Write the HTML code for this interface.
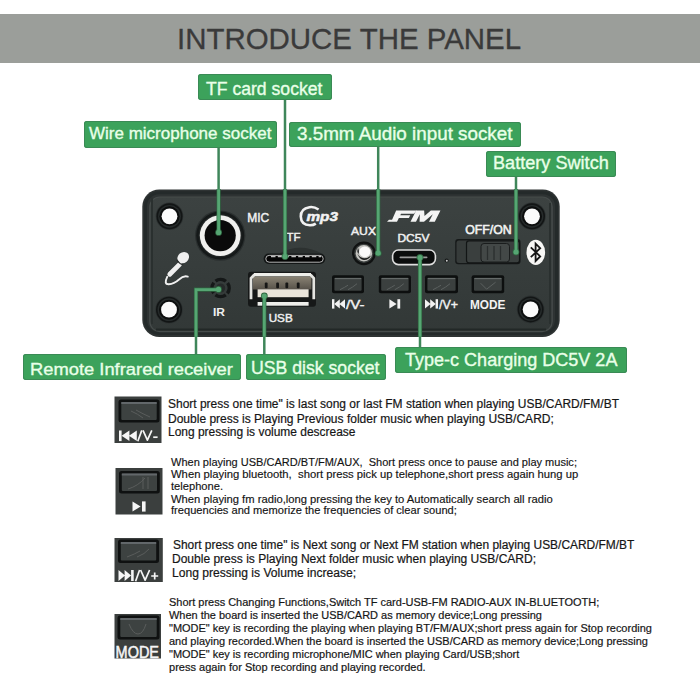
<!DOCTYPE html>
<html><head><meta charset="utf-8">
<style>
*{margin:0;padding:0;box-sizing:border-box}
html,body{width:700px;height:700px;overflow:hidden;background:#fff}
body{position:relative;font-family:"Liberation Sans",sans-serif}
.a{position:absolute}
.t{position:absolute;white-space:nowrap;line-height:1;transform-origin:0 0}
.lbl{position:absolute;background:#3ca25b;border-radius:3px;box-shadow:inset 0 0 0 1px #3a8a55}
</style></head><body>
<div class="a" style="left:0;top:13.6px;width:700px;height:49.8px;background:#9b9e9a"></div>
<div class="t" style="left:177.45px;top:24.72px;font-size:28.8px;transform:scaleX(1.0223);color:#3a3a3a;-webkit-text-stroke:0.3px #3a3a3a">INTRODUCE THE PANEL</div>
<svg class="a" style="left:0;top:0" width="700" height="700" viewBox="0 0 700 700">
<defs>
<radialGradient id="hole" cx="50%" cy="50%" r="50%"><stop offset="0.6" stop-color="#111414"/><stop offset="0.82" stop-color="#1c2020"/><stop offset="1" stop-color="#343a39"/></radialGradient>
<linearGradient id="face" x1="0" y1="0" x2="0" y2="1"><stop offset="0" stop-color="#3c4241"/><stop offset="0.5" stop-color="#373d3c"/><stop offset="1" stop-color="#323837"/></linearGradient>
</defs>
<!-- panel body -->
<rect x="142.3" y="189.5" width="417.4" height="147.5" rx="17" fill="#2e3333"/>
<rect x="145.5" y="192.8" width="411" height="140.6" rx="13.5" fill="none" stroke="#242a2a" stroke-width="3"/>
<rect x="149.8" y="197" width="402.4" height="134.6" rx="10" fill="url(#face)" stroke="#464c4b" stroke-width="1.2"/>
<line x1="156" y1="329.4" x2="546" y2="329.4" stroke="#222827" stroke-width="2"/>
<line x1="152" y1="197.5" x2="152" y2="324" stroke="#2a302f" stroke-width="2"/>
<line x1="550" y1="203" x2="550" y2="324" stroke="#2a302f" stroke-width="2"/>

<!-- mounting holes -->
<g>
<circle cx="169.5" cy="216.3" r="13.8" fill="#2c3131"/><circle cx="169.5" cy="216.3" r="13" fill="#121515"/><circle cx="169.5" cy="216.3" r="11.4" fill="#262b2b"/><circle cx="169.5" cy="216.3" r="10" fill="#0c0e0e"/><circle cx="169.5" cy="216.3" r="7.9" fill="#fbfbfb"/>
<circle cx="532" cy="216.3" r="13.8" fill="#2c3131"/><circle cx="532" cy="216.3" r="13" fill="#121515"/><circle cx="532" cy="216.3" r="11.4" fill="#262b2b"/><circle cx="532" cy="216.3" r="10" fill="#0c0e0e"/><circle cx="532" cy="216.3" r="7.9" fill="#fbfbfb"/>
<circle cx="169" cy="309.7" r="13.8" fill="#2c3131"/><circle cx="169" cy="309.7" r="13" fill="#121515"/><circle cx="169" cy="309.7" r="11.4" fill="#262b2b"/><circle cx="169" cy="309.7" r="10" fill="#0c0e0e"/><circle cx="169" cy="309.7" r="7.9" fill="#fbfbfb"/>
<circle cx="530.6" cy="309.4" r="13.8" fill="#2c3131"/><circle cx="530.6" cy="309.4" r="13" fill="#121515"/><circle cx="530.6" cy="309.4" r="11.4" fill="#262b2b"/><circle cx="530.6" cy="309.4" r="10" fill="#0c0e0e"/><circle cx="530.6" cy="309.4" r="7.9" fill="#fbfbfb"/>
</g>

<!-- MIC jack -->
<circle cx="220.2" cy="235.6" r="25.2" fill="#2a2f2f"/>
<circle cx="220.2" cy="235.6" r="24" fill="#151919"/>
<circle cx="220.2" cy="235.6" r="21.6" fill="#232727"/>
<circle cx="220.2" cy="235.6" r="20.4" fill="#f0f0ee"/>
<circle cx="220.2" cy="235.6" r="15.6" fill="#0a0a0a"/>
<text x="247.2" y="221.5" font-family="Liberation Sans" font-size="13" fill="#f2f2f2" stroke="#f2f2f2" stroke-width="0.45" textLength="22" lengthAdjust="spacingAndGlyphs">MIC</text>

<!-- mic icon -->
<g stroke="#f0f0f0" fill="none" stroke-linecap="round">
<path d="M167.2 276.8 Q163.5 284.5 168.8 284.3 Q174 284 179 279.5 Q183.5 275.2 187.8 276.6" stroke-width="1.9"/>
<path d="M169.8 274.2 L179.6 264.4" stroke-width="4.8"/>
</g>
<ellipse cx="183.2" cy="257.6" rx="6.2" ry="5.3" transform="rotate(-40 183.2 257.6)" fill="#f0f0f0"/>
<path d="M176.8 259.8 Q179 263.8 183.4 265" stroke="#2a2e2e" stroke-width="1.2" fill="none"/>

<!-- IR sensor -->
<circle cx="220.6" cy="288" r="8.6" fill="none" stroke="#151818" stroke-width="3.4" stroke-dasharray="11 2.5" transform="rotate(53 220.6 288)"/>
<circle cx="220.6" cy="288" r="4.6" fill="#262a2a"/>
<text x="213" y="315.7" font-family="Liberation Sans" font-weight="bold" font-size="11.5" fill="#f0f0f0" textLength="12" lengthAdjust="spacingAndGlyphs">IR</text>

<!-- mp3 logo -->
<path d="M318.6 209.5 Q314 206.5 309.5 207.2 Q300.7 208.5 300.8 216.5 Q301 225 310 225.2 Q313.5 225.2 315.8 223.6" fill="none" stroke="#f2f2f2" stroke-width="2.6"/>
<text x="306.5" y="221" font-family="Liberation Sans" font-weight="bold" font-style="italic" font-size="12.6" fill="#f2f2f2" stroke="#f2f2f2" stroke-width="0.5" textLength="31.5" lengthAdjust="spacingAndGlyphs">mp3</text>

<!-- TF -->
<text x="286.5" y="241.3" font-family="Liberation Sans" font-size="11.6" fill="#f0f0f0" stroke="#f0f0f0" stroke-width="0.45" textLength="14" lengthAdjust="spacingAndGlyphs">TF</text>
<path d="M279 253.5 Q300 242 322 253.5" fill="#2c3130"/>
<rect x="263.6" y="253.6" width="61.7" height="10.3" rx="5.1" fill="#131616"/>
<rect x="265.8" y="255.4" width="57.4" height="6.8" rx="3.4" fill="#050505" stroke="#c6c6c6" stroke-width="0.9"/>
<path d="M271 256.5 H321" stroke="#c0c0c0" stroke-width="1.3" stroke-dasharray="4.5 2.3"/>

<!-- USB port -->
<defs><linearGradient id="usbin" x1="0" y1="0" x2="0" y2="1"><stop offset="0" stop-color="#8a8374"/><stop offset="1" stop-color="#57524a"/></linearGradient></defs>
<rect x="248" y="271.8" width="68" height="35" rx="3" fill="#161818"/>
<rect x="253" y="276.5" width="58.5" height="13" fill="url(#usbin)"/>
<g fill="#161616"><rect x="264.8" y="282.6" width="2.8" height="5.6" rx="1"/><rect x="276.2" y="282.6" width="2.8" height="5.6" rx="1"/><rect x="285.4" y="282.6" width="2.8" height="5.6" rx="1"/><rect x="296.8" y="282.6" width="2.8" height="5.6" rx="1"/></g>
<path d="M254.5 274.6 L251 278.2 V299.2" fill="none" stroke="#e4e4e0" stroke-width="2.8"/>
<path d="M310.5 274.6 L313.8 278.2 V299.2" fill="none" stroke="#e4e4e0" stroke-width="2.8"/>
<rect x="254" y="273" width="57" height="3.3" fill="#eeeeea"/>
<rect x="257.6" y="289.3" width="51" height="7.9" fill="#e9e4da"/>
<rect x="257.6" y="302" width="51" height="3.7" fill="#eeeeeb"/>
<text x="268.7" y="322.2" font-family="Liberation Sans" font-size="11.6" fill="#f0f0f0" stroke="#f0f0f0" stroke-width="0.45" textLength="24" lengthAdjust="spacingAndGlyphs">USB</text>

<!-- AUX -->
<text x="351" y="235" font-family="Liberation Sans" font-size="11.8" fill="#f0f0f0" stroke="#f0f0f0" stroke-width="0.45" textLength="25" lengthAdjust="spacingAndGlyphs">AUX</text>
<circle cx="363.9" cy="253.3" r="11.9" fill="#101212"/>
<circle cx="363.9" cy="253.3" r="9.6" fill="#3c403f"/>
<circle cx="363.9" cy="253.3" r="8.2" fill="#c4c4c0"/>
<path d="M357.5 253.5 Q359 259.5 364 260 Q369 259.8 371 255.5 Q368 258.3 364 258.2 Q359.5 257.8 357.5 253.5 Z" fill="#1a1c1c"/>
<path d="M358.2 248 Q359.5 251.5 358.6 254 L357.4 252 Q357.2 249.5 358.2 248 Z" fill="#1a1c1c"/>
<ellipse cx="364.8" cy="251.8" rx="5.6" ry="5.4" fill="#fafafa"/>

<!-- FM logo -->
<g transform="translate(0 221.7) skewX(-27) translate(0 -221.7)" fill="#f4f4f4">
<path d="M390.5 210.6 H411 L410 213.8 H397 V215.3 H407 V218 H397 V221.7 H391.2 Z"/>
<path d="M388 219.8 H391.5 V221.7 H387 Z"/>
<path d="M410.5 210.6 H418.5 L421.6 216 L425.2 210.6 H434.8 V221.7 H429 V214.2 L424 221.7 H419.6 L416 214.2 V221.7 H410.5 Z"/>
</g>

<!-- DC5V + USB-C -->
<text x="397.4" y="242.2" font-family="Liberation Sans" font-size="10.6" fill="#f0f0f0" stroke="#f0f0f0" stroke-width="0.45" textLength="32" lengthAdjust="spacingAndGlyphs">DC5V</text>
<rect x="392.6" y="250" width="42.8" height="14.6" rx="5.8" fill="#0b0d0d" stroke="#dedede" stroke-width="1.6"/>
<rect x="399.5" y="256.4" width="28" height="1.8" rx="0.9" fill="#9a9a9a"/>
<circle cx="446.6" cy="260.6" r="2" fill="#161919"/><circle cx="446.8" cy="260.8" r="1" fill="#c8c8c8"/>

<!-- OFF/ON switch -->
<text x="465.2" y="234.4" font-family="Liberation Sans" font-size="12" fill="#f2f2f2" stroke="#f2f2f2" stroke-width="0.55" textLength="46.5" lengthAdjust="spacingAndGlyphs">OFF/ON</text>
<rect x="455.2" y="239.1" width="65.3" height="25.1" rx="3" fill="#161919"/>
<rect x="456.5" y="240.4" width="62.7" height="22.5" rx="2.5" fill="#363b3a"/>
<rect x="466.5" y="240.8" width="53" height="22" rx="2.5" fill="#3a3f3e" stroke="#121515" stroke-width="1.2"/>
<rect x="481" y="243.5" width="28.5" height="18.5" rx="3" fill="#434847" stroke="#1a1d1d" stroke-width="1"/>
<g stroke="#2a2e2e" stroke-width="1.3"><line x1="487.5" y1="246" x2="487.5" y2="260"/><line x1="494" y1="246" x2="494" y2="260"/><line x1="500.5" y1="246" x2="500.5" y2="260"/></g>

<!-- bluetooth -->
<ellipse cx="535.8" cy="252.4" rx="9.3" ry="12.6" fill="#f7f7f5"/>
<path d="M530.8 247.4 L540.2 256.4 L535.6 261 V243.6 L540.2 248.2 L530.8 257.2" fill="none" stroke="#151515" stroke-width="1.8" stroke-linejoin="miter"/>

<!-- buttons -->
<g>
<rect x="332" y="275.2" width="32" height="18" rx="2" fill="#0d0f0f"/><rect x="334.4" y="277.8" width="27.2" height="13.0" rx="1" fill="#3b403f"/><line x1="334.8" y1="278.6" x2="361.2" y2="278.6" stroke="#686d6c" stroke-width="1.1"/>
<path d="M340.0 289.7 Q345.0 287.2 348.0 285.2 M348.0 289.7 Q353.0 287.2 357.0 283.7" stroke="#5b605f" stroke-width="1" fill="none"/>
<rect x="378.8" y="275.2" width="32.2" height="18" rx="2" fill="#0d0f0f"/><rect x="381.2" y="277.8" width="27.4" height="13.0" rx="1" fill="#3b403f"/><line x1="381.6" y1="278.6" x2="408.2" y2="278.6" stroke="#686d6c" stroke-width="1.1"/>
<path d="M386.8 289.7 Q391.8 287.2 394.8 285.2 M394.8 289.7 Q399.8 287.2 403.8 283.7" stroke="#5b605f" stroke-width="1" fill="none"/>
<rect x="425" y="275.2" width="33" height="18" rx="2" fill="#0d0f0f"/><rect x="427.4" y="277.8" width="28.2" height="13.0" rx="1" fill="#3b403f"/><line x1="427.8" y1="278.6" x2="455.2" y2="278.6" stroke="#686d6c" stroke-width="1.1"/>
<path d="M433.0 289.7 Q438.0 287.2 441.0 285.2 M441.0 289.7 Q446.0 287.2 450.0 283.7" stroke="#5b605f" stroke-width="1" fill="none"/>
<rect x="471.6" y="275.2" width="32.6" height="18" rx="2" fill="#0d0f0f"/><rect x="474.0" y="277.8" width="27.8" height="13.0" rx="1" fill="#3b403f"/><line x1="474.4" y1="278.6" x2="501.4" y2="278.6" stroke="#686d6c" stroke-width="1.1"/>
<path d="M480.6 283.2 L486.6 289.2 L495.6 282.2" stroke="#5b605f" stroke-width="1" fill="none"/>
</g>
<g fill="#f2f2f2">
<rect x="332" y="299.2" width="2.4" height="9.4"/><path d="M334.2 303.9 L339.8 299.2 V308.6 Z M339.4 303.9 L345 299.2 V308.6 Z"/>
<path d="M389.4 299.2 L396.6 303.9 L389.4 308.6 Z"/><rect x="397.4" y="299.2" width="2.8" height="9.4"/>
<path d="M425 299.2 L430.6 303.9 L425 308.6 Z M430.2 299.2 L435.8 303.9 L430.2 308.6 Z"/><rect x="435.6" y="299.2" width="2.4" height="9.4"/>
</g>
<g fill="#f2f2f2" stroke="#f2f2f2" stroke-width="0.4">
<text x="346" y="308.6" font-family="Liberation Sans" font-size="12.6" textLength="18.5" lengthAdjust="spacingAndGlyphs">/V-</text>
<text x="439" y="308.6" font-family="Liberation Sans" font-size="12.6" textLength="19" lengthAdjust="spacingAndGlyphs">/V+</text>
</g>
<text x="470" y="308.6" font-family="Liberation Sans" font-weight="bold" font-size="12.6" fill="#f2f2f2" textLength="35.5" lengthAdjust="spacingAndGlyphs">MODE</text>

<!-- green lines on panel -->
<g stroke="#2f6640" stroke-width="4.2" fill="none">
<line x1="285" y1="189" x2="285" y2="256.5"/>
<line x1="218.6" y1="189" x2="218.6" y2="232.4"/>
<line x1="378.2" y1="189" x2="378.2" y2="253.2"/>
<line x1="516" y1="189" x2="516" y2="252"/>
<polyline points="196,337 196,289.6 218.5,289.6"/>
<line x1="264.3" y1="296" x2="264.3" y2="337"/>
<line x1="420" y1="257.5" x2="420" y2="337"/>
</g>
<g fill="#2f6640"><circle cx="218.6" cy="232.4" r="3.4"/><circle cx="378.2" cy="253.2" r="3.4"/><circle cx="516" cy="252" r="3.4"/><circle cx="218.5" cy="289.4" r="3.4"/><circle cx="264.3" cy="296" r="3.4"/><circle cx="420" cy="257.5" r="3.4"/><circle cx="285" cy="256.5" r="3.4"/></g>
<g stroke="#56a673" stroke-width="2.8" fill="none">
<line x1="285" y1="189" x2="285" y2="256.5"/>
<line x1="218.6" y1="189" x2="218.6" y2="232.4"/>
<line x1="378.2" y1="189" x2="378.2" y2="253.2"/>
<line x1="516" y1="189" x2="516" y2="252"/>
<polyline points="196,337 196,289.6 218.5,289.6"/>
<line x1="264.3" y1="296" x2="264.3" y2="337"/>
<line x1="420" y1="257.5" x2="420" y2="337"/>
</g>
<g fill="#56a673"><circle cx="218.6" cy="232.4" r="2.6"/><circle cx="378.2" cy="253.2" r="2.6"/><circle cx="516" cy="252" r="2.6"/><circle cx="218.5" cy="289.4" r="2.6"/><circle cx="264.3" cy="296" r="2.6"/><circle cx="420" cy="257.5" r="2.6"/><circle cx="285" cy="256.5" r="2.6"/></g>
<g stroke="#3f865a" stroke-width="2.5" fill="none">
<line x1="285" y1="100" x2="285" y2="189.5"/>
<line x1="218.6" y1="147" x2="218.6" y2="189.5"/>
<line x1="378.2" y1="147" x2="378.2" y2="189.5"/>
<line x1="516" y1="177" x2="516" y2="189.5"/>
<line x1="196" y1="336.5" x2="196" y2="354"/>
<line x1="264.3" y1="336.5" x2="264.3" y2="354.5"/>
<line x1="420" y1="336.5" x2="420" y2="347.5"/>
</g>
</svg>

<div class="lbl" style="left:198.1px;top:74.4px;width:133.5px;height:26.0px"></div>
<div class="t" style="left:205.95px;top:80.69px;font-size:17.5px;transform:scaleX(1.0060);color:#e9ffe8;-webkit-text-stroke:0.35px #e9ffe8">TF card socket</div>
<div class="lbl" style="left:83.5px;top:121.3px;width:193.2px;height:26.3px"></div>
<div class="t" style="left:89.30px;top:126.45px;font-size:16.6px;transform:scaleX(1.0248);color:#e9ffe8;-webkit-text-stroke:0.35px #e9ffe8">Wire microphone socket</div>
<div class="lbl" style="left:289.4px;top:121.8px;width:231.4px;height:25.6px"></div>
<div class="t" style="left:297.44px;top:125.69px;font-size:17.5px;transform:scaleX(1.0753);color:#e9ffe8;-webkit-text-stroke:0.35px #e9ffe8">3.5mm Audio input socket</div>
<div class="lbl" style="left:486.1px;top:151px;width:130.0px;height:26.1px"></div>
<div class="t" style="left:493.25px;top:154.99px;font-size:17.5px;transform:scaleX(1.0351);color:#e9ffe8;-webkit-text-stroke:0.35px #e9ffe8">Battery Switch</div>
<div class="lbl" style="left:23.2px;top:353.9px;width:217.6px;height:26.4px"></div>
<div class="t" style="left:29.63px;top:360.64px;font-size:17.2px;transform:scaleX(1.0672);color:#e9ffe8;-webkit-text-stroke:0.35px #e9ffe8">Remote Infrared receiver</div>
<div class="lbl" style="left:245.6px;top:354.2px;width:140.2px;height:26.1px"></div>
<div class="t" style="left:251.06px;top:360.39px;font-size:17.5px;transform:scaleX(1.0086);color:#e9ffe8;-webkit-text-stroke:0.35px #e9ffe8">USB disk socket</div>
<div class="lbl" style="left:395.2px;top:347.2px;width:231.6px;height:26.3px"></div>
<div class="t" style="left:404.54px;top:352.09px;font-size:17.5px;transform:scaleX(1.0301);color:#e9ffe8;-webkit-text-stroke:0.35px #e9ffe8">Type-c Charging DC5V 2A</div>
<svg class="a" style="left:0;top:380px" width="200" height="300" viewBox="0 380 200 300">
<g>
<rect x="114.5" y="396.5" width="47" height="46.5" fill="#3b3f3e"/>
<rect x="118.5" y="399.5" width="41" height="23" rx="2.5" fill="#0f1111"/>
<rect x="121.3" y="402" width="35.4" height="18" rx="1" fill="#3d4241"/>
<rect x="121.3" y="402" width="35.4" height="2" fill="#62676a"/>
<path d="M131 411 Q138 414 143 418 M136 410 Q143 414 150 417" stroke="#5a5d5c" stroke-width="1" fill="none"/>

<rect x="115.5" y="468" width="47" height="46.5" fill="#3b3f3e"/>
<rect x="119" y="471" width="40.8" height="22.5" rx="2.5" fill="#0f1111"/>
<rect x="121.8" y="473.5" width="35.2" height="17.5" rx="1" fill="#3d4241"/>
<rect x="121.8" y="473.5" width="35.2" height="2" fill="#62676a"/>
<path d="M128 489 Q138 486 145 478 M143 477 V489 M148 477 V489" stroke="#5a5d5c" stroke-width="1" fill="none"/>

<rect x="114.5" y="538" width="48.3" height="44" fill="#3b3f3e"/>
<rect x="118" y="539.5" width="41" height="23.5" rx="2.5" fill="#0f1111"/>
<rect x="120.8" y="542" width="35.4" height="18.5" rx="1" fill="#3d4241"/>
<rect x="120.8" y="542" width="35.4" height="2" fill="#62676a"/>
<path d="M127 557 Q135 554 140 551 M137 557 Q145 554 149 549" stroke="#5a5d5c" stroke-width="1" fill="none"/>

<rect x="114.5" y="614" width="46.5" height="44.5" fill="#3b3f3e"/>
<rect x="117.5" y="615.5" width="42" height="24" rx="2.5" fill="#0f1111"/>
<rect x="120.3" y="618" width="36.4" height="19" rx="1" fill="#3d4241"/>
<rect x="120.3" y="618" width="36.4" height="2" fill="#62676a"/>
<path d="M129 624 Q133 634 138 634 Q143 634 146 624" stroke="#5a5d5c" stroke-width="1" fill="none"/>
</g>
<g fill="#f6f6f6">
<rect x="119" y="430.5" width="2.6" height="10.6"/><path d="M121.6 435.8 L129.4 430.5 V441.1 Z M129 435.8 L136.8 430.5 V441.1 Z"/>
<path d="M132.5 501.4 L140.6 506.5 L132.5 511.6 Z"/><rect x="142" y="501.4" width="3.6" height="10.2"/>
<path d="M118.5 570 L125 575.5 L118.5 581 Z M124.6 570 L131.1 575.5 L124.6 581 Z"/><rect x="131.1" y="570" width="2.6" height="11"/>
</g>
<g stroke="#f6f6f6" stroke-width="1.7" fill="none" stroke-linecap="butt" stroke-linejoin="round">
<path d="M137.8 441.2 L141.8 430.4"/>
<path d="M143 430.4 L147.4 440.2 L151.8 430.4"/>
<path d="M153.2 437.2 H157.6"/>
<path d="M135.6 581.2 L139.6 570"/>
<path d="M140.6 570 L145.1 580.1 L149.6 570"/>
<path d="M151.2 576 H158.2 M154.7 572.5 V579.5"/>
</g>
<text x="115.6" y="657.6" font-family="Liberation Sans" font-size="15.9" fill="#f6f6f6" stroke="#f6f6f6" stroke-width="0.5" textLength="43.4" lengthAdjust="spacingAndGlyphs">MODE</text>
</svg>

<div class="t" style="left:168.22px;top:397.74px;font-size:12px;transform:scaleX(0.9982);color:#161616;-webkit-text-stroke:0.2px #161616">Short press one time&quot; is last song or last FM station when playing USB/CARD/FM/BT</div>
<div class="t" style="left:167.74px;top:412.74px;font-size:12px;transform:scaleX(1.0008);color:#161616;-webkit-text-stroke:0.2px #161616">Double press is Playing Previous folder music when playing USB/CARD;</div>
<div class="t" style="left:167.74px;top:426.14px;font-size:12px;transform:scaleX(0.9967);color:#161616;-webkit-text-stroke:0.2px #161616">Long pressing is volume descrease</div>
<div class="t" style="left:170.80px;top:457.13px;font-size:10.6px;transform:scaleX(1.0399);color:#141414;-webkit-text-stroke:0.15px #141414">When playing USB/CARD/BT/FM/AUX,  Short press once to pause and play music;</div>
<div class="t" style="left:170.80px;top:469.23px;font-size:10.6px;transform:scaleX(1.0623);color:#141414;-webkit-text-stroke:0.15px #141414">When playing bluetooth,  short press pick up telephone,short press again hung up</div>
<div class="t" style="left:170.69px;top:481.33px;font-size:10.6px;transform:scaleX(1.0521);color:#141414;-webkit-text-stroke:0.15px #141414">telephone.</div>
<div class="t" style="left:170.80px;top:494.03px;font-size:10.6px;transform:scaleX(1.0591);color:#141414;-webkit-text-stroke:0.15px #141414">When playing fm radio,long pressing the key to Automatically search all radio</div>
<div class="t" style="left:170.69px;top:505.13px;font-size:10.6px;transform:scaleX(1.0483);color:#141414;-webkit-text-stroke:0.15px #141414">frequencies and memorize the frequencies of clear sound;</div>
<div class="t" style="left:172.52px;top:538.84px;font-size:12px;transform:scaleX(0.9948);color:#161616;-webkit-text-stroke:0.2px #161616">Short press one time&quot; is Next song or Next FM station when playing USB/CARD/FM/BT</div>
<div class="t" style="left:172.04px;top:552.74px;font-size:12px;transform:scaleX(1.0015);color:#161616;-webkit-text-stroke:0.2px #161616">Double press is Playing Next folder music when playing USB/CARD;</div>
<div class="t" style="left:172.03px;top:566.94px;font-size:12px;transform:scaleX(1.0074);color:#161616;-webkit-text-stroke:0.2px #161616">Long pressing is Volume increase;</div>
<div class="t" style="left:168.96px;top:596.99px;font-size:11px;transform:scaleX(0.9980);color:#161616;-webkit-text-stroke:0.2px #161616">Short press Changing Functions,Switch TF card-USB-FM RADIO-AUX IN-BLUETOOTH;</div>
<div class="t" style="left:169.40px;top:609.59px;font-size:11px;transform:scaleX(0.9966);color:#161616;-webkit-text-stroke:0.2px #161616">When the board is inserted the USB/CARD as memory device;Long pressing</div>
<div class="t" style="left:168.96px;top:622.99px;font-size:11px;transform:scaleX(0.9975);color:#161616;-webkit-text-stroke:0.2px #161616">&quot;MODE&quot; key is recording the playing when playing BT/FM/AUX;short press again for Stop recording</div>
<div class="t" style="left:168.96px;top:635.69px;font-size:11px;transform:scaleX(0.9979);color:#161616;-webkit-text-stroke:0.2px #161616">and playing recorded.When the board is inserted the USB/CARD as memory device;Long pressing</div>
<div class="t" style="left:168.96px;top:648.99px;font-size:11px;transform:scaleX(0.9952);color:#161616;-webkit-text-stroke:0.2px #161616">&quot;MODE&quot; key is recording microphone/MIC when playing Card/USB;short</div>
<div class="t" style="left:168.74px;top:661.99px;font-size:11px;transform:scaleX(1.0016);color:#161616;-webkit-text-stroke:0.2px #161616">press again for Stop recording and playing recorded.</div>
</body></html>
